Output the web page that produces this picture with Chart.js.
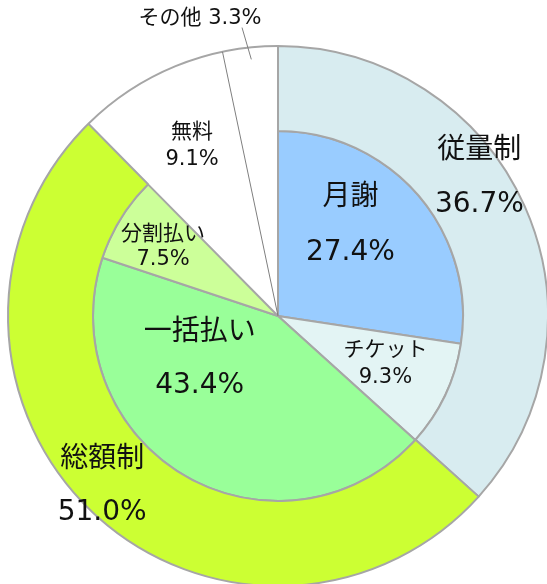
<!DOCTYPE html>
<html>
<head>
<meta charset="utf-8">
<script src="https://cdn.jsdelivr.net/npm/chart.js@4/dist/chart.umd.min.js"></script>
<style>
  html, body { margin: 0; padding: 0; background: #ffffff; overflow: hidden; }
  #wrap { position: absolute; left: 0; top: 0; width: 556px; height: 632px; }
</style>
</head>
<body>
<div id="wrap"><canvas id="c" width="556" height="632"></canvas></div>
<script>
// ---- data ----
const outerCategories = ['従量制', '総額制', '無料', 'その他'];
const outerValues = [36.7, 51.0, 9.1, 3.3];
const innerCategories = ['月謝', 'チケット', '一括払い', '分割払い', '無料', 'その他'];
const innerValues = [27.4, 9.3, 43.4, 7.5, 9.1, 3.3];

// ---- styles ----
const outerColors = ['#d8ecf0', '#ccff33', 'rgba(0,0,0,0)', 'rgba(0,0,0,0)'];
const outerBorders = [2, 2, 0, 0];
const innerColors = ['#99ccff', '#e3f4f4', '#99ff99', '#ccff99', 'rgba(0,0,0,0)', 'rgba(0,0,0,0)'];
const innerBorders = [2, 2, 2, 2, 0, 0];
const EDGE = '#a6a6a6';
const FONT = '"DejaVu Sans", "Noto Sans CJK JP", sans-serif';

// label layout per ring/slice: r = radius along slice middle, dx/dy nudge, size, half gap between lines
const labelLayout = {
  0: {
    0: { r: 227, dx: -6, dy: -46, size: 28, half: 27 },
    1: { r: 227, dx: -19, dy: 6, size: 28, half: 26.5 },
    2: { r: 190, dx: 4, dy: -3, size: 21, half: 13.5 },
    3: { leader: true }
  },
  1: {
    0: { r: 110, dx: -11, dy: -19, size: 28, half: 27.5 },
    1: { r: 120, dx: -1, dy: -3, size: 21, half: 13.5 },
    2: { r: 90, dx: -33, dy: -35, size: 28, half: 26.5 },
    3: { r: 140, dx: 4, dy: 5, size: 21, half: 12.5 }
  }
};

const ringPlugin = {
  id: 'ringDecor',
  afterDatasetsDraw(chart) {
    const ctx = chart.ctx;
    const outer = chart.getDatasetMeta(0).data;
    const a2 = outer[2], a3 = outer[3];
    const cx = a2.x, cy = a2.y, R = a2.outerRadius;
    ctx.save();
    // outer rim over the white slices
    ctx.beginPath();
    ctx.arc(cx, cy, R, a2.startAngle, a3.endAngle);
    ctx.strokeStyle = EDGE;
    ctx.lineWidth = 2;
    ctx.stroke();
    // thin boundary between 無料 and その他, from centre to rim
    ctx.beginPath();
    ctx.moveTo(cx, cy);
    ctx.lineTo(cx + R * Math.cos(a3.startAngle), cy + R * Math.sin(a3.startAngle));
    ctx.strokeStyle = '#7f7f7f';
    ctx.lineWidth = 1;
    ctx.stroke();

    // labels
    ctx.fillStyle = '#111111';
    ctx.textAlign = 'center';
    ctx.textBaseline = 'middle';
    const sets = [
      { meta: chart.getDatasetMeta(0).data, cats: outerCategories, vals: outerValues, lay: labelLayout[0] },
      { meta: chart.getDatasetMeta(1).data, cats: innerCategories, vals: innerValues, lay: labelLayout[1] }
    ];
    sets.forEach(s => {
      Object.keys(s.lay).forEach(k => {
        const i = +k, L = s.lay[k], arc = s.meta[i];
        const mid = (arc.startAngle + arc.endAngle) / 2;
        const text2 = s.vals[i].toFixed(1) + '%';
        if (L.leader) {
          const x1 = cx + 258 * Math.cos(mid), y1 = cy + 258 * Math.sin(mid);
          const x2 = cx + 290 * Math.cos(mid) - 6, y2 = cy + 290 * Math.sin(mid);
          ctx.beginPath();
          ctx.moveTo(x1, y1);
          ctx.lineTo(x2, y2);
          ctx.strokeStyle = '#7f7f7f';
          ctx.lineWidth = 1;
          ctx.stroke();
          ctx.font = '21px ' + FONT;
          ctx.fillText(s.cats[i] + ' ' + text2, x2 - 42, y2 - 9.5);
          return;
        }
        const x = cx + L.r * Math.cos(mid) + L.dx;
        const y = cy + L.r * Math.sin(mid) + L.dy;
        ctx.font = L.size + 'px ' + FONT;
        ctx.fillText(s.cats[i], x, y - L.half);
        ctx.fillText(text2, x, y + L.half);
      });
    });
    ctx.restore();
  }
};

new Chart(document.getElementById('c'), {
  type: 'doughnut',
  data: {
    labels: innerCategories,
    datasets: [
      {
        label: 'outer',
        data: outerValues,
        backgroundColor: outerColors,
        borderColor: EDGE,
        borderWidth: outerBorders,
        weight: 85
      },
      {
        label: 'inner',
        data: innerValues,
        backgroundColor: innerColors,
        borderColor: EDGE,
        borderWidth: innerBorders,
        weight: 185
      }
    ]
  },
  options: {
    responsive: false,
    animation: false,
    devicePixelRatio: 1,
    cutout: 0,
    layout: { padding: { top: 45, bottom: 45, left: 0, right: 0 } },
    plugins: { legend: { display: false }, tooltip: { enabled: false } },
    events: []
  },
  plugins: [ringPlugin]
});
</script>
</body>
</html>
